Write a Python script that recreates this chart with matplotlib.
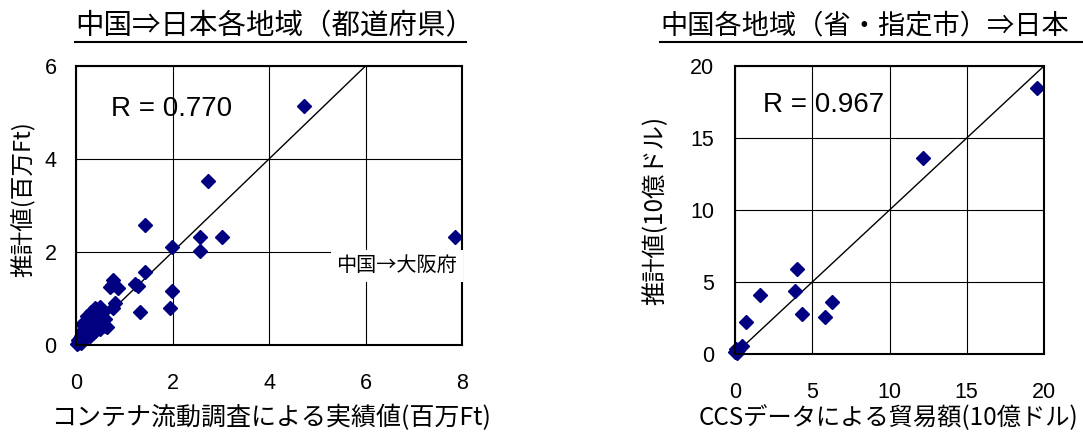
import matplotlib
matplotlib.use('Agg')
import matplotlib.pyplot as plt
from matplotlib.lines import Line2D

plt.rcParams['font.family'] = ['Noto Sans CJK JP', 'DejaVu Sans']

# left: China -> Japanese prefectures (million Ft)
pref_actual = [4.73, 2.74, 7.85, 1.43, 2.57, 3.02, 2.57, 1.98, 1.42, 1.98, 1.95, 1.33,
               1.22, 1.29, 0.77, 0.70, 0.88, 0.81, 0.77, 0.64, 0.74,
               0.05, 0.08, 0.10, 0.12, 0.15, 0.18, 0.20, 0.22, 0.25, 0.28, 0.30, 0.32,
               0.35, 0.40, 0.45, 0.50, 0.55, 0.10, 0.20, 0.30, 0.40, 0.50, 0.60, 0.15,
               0.35, 0.05, 0.25, 0.45, 0.60, 0.02, 0.12, 0.22, 0.38, 0.48]
pref_est = [5.14, 3.53, 2.32, 2.58, 2.32, 2.32, 2.02, 2.11, 1.56, 1.17, 0.79, 0.70,
            1.31, 1.27, 1.40, 1.25, 1.22, 0.90, 0.79, 0.39, 1.29,
            0.10, 0.15, 0.20, 0.30, 0.25, 0.40, 0.35, 0.50, 0.45, 0.60, 0.55, 0.70,
            0.65, 0.80, 0.75, 0.82, 0.70, 0.05, 0.15, 0.20, 0.30, 0.35, 0.40, 0.10,
            0.25, 0.05, 0.30, 0.50, 0.55, 0.02, 0.45, 0.62, 0.58, 0.65]

# right: Chinese provinces -> Japan (billion USD)
prov_actual = [19.55, 12.17, 4.03, 3.88, 1.62, 6.26, 4.32, 5.83, 0.71, 0.43, 0.05, 0.10, 0.20, 0.00]
prov_est = [18.5, 13.6, 5.88, 4.38, 4.08, 3.64, 2.77, 2.58, 2.24, 0.57, 0.35, 0.05, 0.30, 0.15]

W, H = 1083, 434
fig = plt.figure(figsize=(W / 100, H / 100), dpi=100)

num_font = ['Liberation Sans', 'DejaVu Sans']
mcolor = '#000080'


def setup(ax, xmax, ymax, xstep, ystep):
    ax.set_xlim(0, xmax)
    ax.set_ylim(0, ymax)
    ax.set_xticks(range(0, xmax + 1, xstep))
    ax.set_yticks(range(0, ymax + 1, ystep))
    ax.grid(True, color='black', linewidth=0.8)
    ax.set_axisbelow(True)
    for s in ax.spines.values():
        s.set_linewidth(1.5)
    ax.tick_params(length=0, labelsize=15.5)
    for lab in ax.get_xticklabels() + ax.get_yticklabels():
        lab.set_family(num_font)


def place_labels(ax, x_center, y_center, axl, axb, axw, axh):
    # put axis labels by their centres, in pixels of the figure
    ax.xaxis.label.set_va('center')
    ax.xaxis.set_label_coords((x_center[0] - axl) / axw, -(x_center[1] - axb) / axh)
    ax.yaxis.label.set_va('center')
    ax.yaxis.set_label_coords(-(axl - y_center[0]) / axw, (axb - y_center[1]) / axh)


# left panel
ax1 = fig.add_axes([76 / W, 1 - 345 / H, 386 / W, 279 / H])
setup(ax1, 8, 6, 2, 2)
ax1.tick_params(axis='x', pad=20)
ax1.tick_params(axis='y', pad=14)
ax1.plot([0, 6], [0, 6], color='black', linewidth=1)
ax1.plot(pref_actual, pref_est, 'D', color=mcolor, markersize=7, clip_on=False)
ax1.text(0.72, 5.08, 'R = 0.770', fontsize=20, family=num_font, va='center')
ax1.text(6.65, 1.70, '中国→大阪府', fontsize=14.5, ha='center', va='center',
         bbox=dict(facecolor='white', edgecolor='none', pad=4))
ax1.set_xlabel('コンテナ流動調査による実績値(百万Ft)', fontsize=18)
ax1.set_ylabel('推計値(百万Ft)', fontsize=17)
place_labels(ax1, (271, 418), (23, 199), 76, 345, 386, 279)

# right panel
ax2 = fig.add_axes([735 / W, 1 - 354 / H, 309 / W, 288 / H])
setup(ax2, 20, 20, 5, 5)
ax2.tick_params(axis='x', pad=20)
ax2.tick_params(axis='y', pad=15)
ax2.plot([0, 20], [0, 20], color='black', linewidth=1)
ax2.plot(prov_actual, prov_est, 'D', color=mcolor, markersize=7, clip_on=False)
ax2.text(1.8, 17.3, 'R = 0.967', fontsize=20, family=num_font, va='center')
ax2.set_xlabel('CCSデータによる貿易額(10億ドル)', fontsize=17.5)
ax2.set_ylabel('推計値(10億ドル)', fontsize=17.5)
place_labels(ax2, (889, 418), (655, 210), 735, 354, 309, 288)

# underlined titles
fig.text(75 / W, 1 - 26 / H, '中国⇒日本各地域（都道府県）', fontsize=20.5, va='center')
fig.add_artist(Line2D([75 / W, 466 / W], [1 - 42 / H] * 2, color='black', linewidth=1.5))
fig.text(660 / W, 1 - 26 / H, '中国各地域（省・指定市）⇒日本', fontsize=19.6, va='center')
fig.add_artist(Line2D([660 / W, 1083 / W], [1 - 42 / H] * 2, color='black', linewidth=1.5))

fig.savefig('out.png', dpi=100)
